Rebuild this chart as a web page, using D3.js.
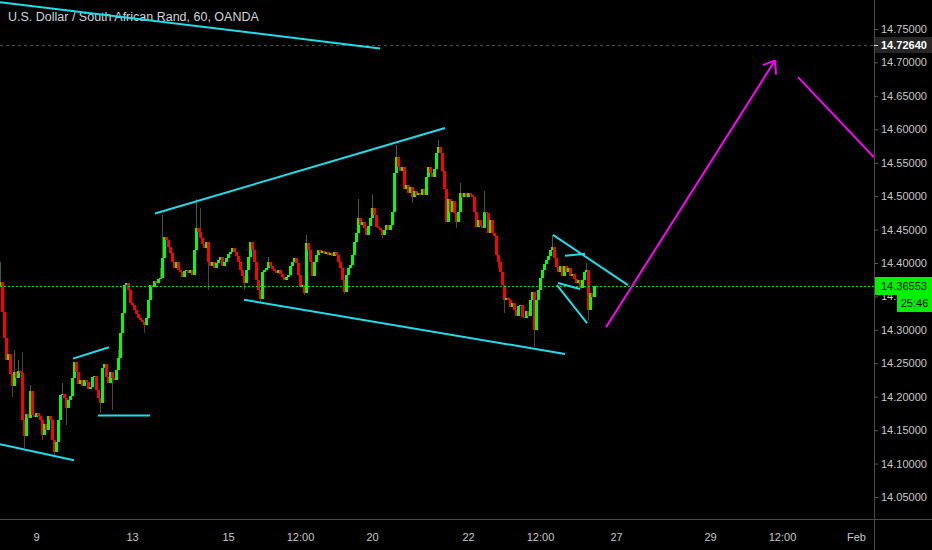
<!DOCTYPE html>
<html><head><meta charset="utf-8">
<script src="https://cdn.jsdelivr.net/npm/d3@7"></script>
<style>html,body{margin:0;padding:0;background:#000;overflow:hidden}svg{display:block}</style>
</head><body>
<svg id="chart" width="932" height="550"></svg>
<script>
// ---------- data ----------
const title = "U.S. Dollar / South African Rand, 60, OANDA";
const firstIndex = -18;          // hourly bar index of first visible candle (0 = Jan 9 00:00)
const firstOpen = 14.366;
const closes = [
  14.372,14.327,14.288,14.255,14.264,14.234,14.216,14.237,14.228,14.238,
  14.235,14.165,14.141,14.174,14.168,14.208,14.172,14.169,14.175,14.171,
  14.165,14.142,14.159,14.150,14.171,14.165,14.135,14.117,14.133,14.165,
  14.202,14.204,14.198,14.183,14.195,14.201,14.228,14.252,14.237,14.219,
  14.225,14.216,14.225,14.222,14.211,14.214,14.229,14.231,14.210,14.198,
  14.190,
  14.243,14.249,14.229,14.220,14.237,14.228,14.225,14.240,14.258,14.295,
  14.325,14.367,14.370,14.360,14.340,14.337,14.330,14.324,14.318,14.315,
  14.312,14.307,14.318,14.345,14.367,14.364,14.373,14.370,14.376,14.378,
  14.408,14.439,14.435,14.424,14.415,14.402,14.393,14.402,14.390,14.387,
  14.379,14.388,14.390,14.385,14.390,14.382,14.420,14.453,14.447,14.438,
  14.429,14.423,14.432,14.402,14.396,14.402,14.393,14.400,14.405,14.409,
  14.396,14.402,14.408,14.414,14.417,14.423,14.417,14.411,14.402,14.390,
  14.381,14.370,14.390,14.409,14.432,14.420,14.402,14.375,14.360,14.346,
  14.387,14.390,14.393,14.402,14.396,14.391,14.388,14.385,14.390,14.384,
  14.379,14.375,14.379,14.382,14.396,14.402,14.408,14.400,14.382,14.364,
  14.367,14.355,14.430,14.420,14.402,14.381,14.402,14.412,14.420,14.415,
  14.418,14.414,14.417,14.412,14.415,14.411,14.417,14.412,14.402,14.393,
  14.375,14.357,14.382,14.393,14.397,14.412,14.432,14.445,14.468,14.457,
  14.462,14.453,14.442,14.456,14.468,14.483,14.472,14.454,14.453,14.450,
  14.442,14.450,14.457,14.450,14.457,14.477,14.535,14.559,14.543,14.537,
  14.543,14.510,14.516,14.505,14.513,14.499,14.507,14.502,14.505,14.502,
  14.510,14.501,14.529,14.543,14.535,14.529,14.540,14.565,14.574,14.565,
  14.537,14.510,14.462,14.495,14.477,14.492,14.475,14.462,14.477,14.505,
  14.498,14.504,14.499,14.505,14.501,14.499,14.477,14.454,14.465,14.456,
  14.453,14.477,14.475,14.445,14.465,14.445,14.441,14.412,14.402,14.387,
  14.367,14.345,14.348,14.345,14.334,14.340,14.330,14.321,14.336,14.337,
  14.319,14.318,14.328,14.321,14.345,14.357,14.300,14.345,14.360,14.378,
  14.390,14.399,14.405,14.411,14.420,14.424,14.408,14.394,14.387,14.396,
  14.381,14.396,14.387,14.393,14.381,14.384,14.376,14.370,14.375,14.363,
  14.375,14.387,14.390,14.330,14.355,14.349,14.36553
];
// notable wick extremes: [bar index, price]
const wickHighs = [[-18,14.402],[-15,14.284],[-11,14.270],[-9,14.255],[-7,14.267],[-3,14.217],
  [13,14.220],[41,14.270],[62,14.393],[63,14.472],[80,14.495],[82,14.483],[116,14.409],
  [135,14.442],[161,14.495],[168,14.502],[180,14.577],[201,14.584],[212,14.520],
  [224,14.507],[258,14.442],[275,14.400]];
const wickLows = [[-12,14.199],[-6,14.124],[3,14.135],[9,14.111],[15,14.157],[32,14.175],
  [38,14.180],[54,14.295],[86,14.360],[104,14.360],[112,14.340],[134,14.352],[154,14.354],
  [173,14.438],[188,14.490],[210,14.453],[231,14.393],[234,14.325],[249,14.274],[276,14.314]];

const priceTicks = [14.75,14.70,14.65,14.60,14.55,14.50,14.45,14.40,14.35,14.30,14.25,14.20,14.15,14.10,14.05];
const timeTickIndex  = [0, 48, 96, 132, 168, 216, 252, 290, 337, 373, 410];
const timeTickLabels = ["9","13","15","12:00","20","22","12:00","27","29","12:00","Feb"];
const lastPrice = 14.36553;
const levelPrice = 14.72640;
const countdown = "25:46";

// drawing tools: segments as [[barIndex, price], [barIndex, price]]
const cyanLines = [
  [[-18,14.790],[172,14.721]],
  [[-18,14.129],[19,14.105]],
  [[18.5,14.257],[36.5,14.274]],
  [[31,14.172],[57,14.172]],
  [[59.5,14.474],[204.5,14.602]],
  [[104,14.345],[264.5,14.264]],
  [[258.5,14.442],[296,14.367]],
  [[260.5,14.367],[275.5,14.310]],
  [[264.5,14.411],[274.5,14.414]],
  [[261,14.370],[272,14.361]]
];
const magentaLines = [
  [[285,14.304],[369.5,14.703]],
  [[363.5,14.696],[369.5,14.703]],
  [[369.5,14.703],[370,14.682]],
  [[381,14.678],[419,14.558]]
];

// ---------- layout ----------
const W = 932, H = 550, plotR = 874, plotB = 519;
const svg = d3.select("#chart");
svg.append("rect").attr("width", W).attr("height", H).attr("fill", "#000");

const x = d3.scaleLinear().domain([-18, 419]).range([0, plotR]);
const y = d3.scaleLinear().domain([14.05, 14.75]).range([497, 29]);

svg.append("clipPath").attr("id", "plotclip").append("rect")
  .attr("x", 0).attr("y", 0).attr("width", plotR).attr("height", plotB);

// title
svg.append("text").attr("x", 8).attr("y", 21).text(title)
  .attr("fill", "#d1d4dc").attr("font-family", "Liberation Sans, Arial, sans-serif").attr("font-size", 12.5);

const plot = svg.append("g").attr("clip-path", "url(#plotclip)");

// level line
plot.append("line").attr("x1", 0).attr("x2", plotR)
  .attr("y1", Math.round(y(levelPrice)) + 0.5).attr("y2", Math.round(y(levelPrice)) + 0.5)
  .attr("stroke", "#4d4d4d").attr("stroke-dasharray", "3,3");

// candles
const hiMap = new Map(wickHighs), loMap = new Map(wickLows);
const candles = closes.map((c, k) => {
  const idx = firstIndex + k;
  const o = k === 0 ? firstOpen : closes[k - 1];
  const h = Math.max(o, c, hiMap.has(idx) ? hiMap.get(idx) : -Infinity);
  const l = Math.min(o, c, loMap.has(idx) ? loMap.get(idx) : Infinity);
  return {idx, o, h, l, c};
});
const cg = plot.append("g").attr("shape-rendering", "crispEdges");
cg.selectAll("line.wick").data(candles).join("line").attr("class", "wick")
  .attr("x1", d => Math.round(x(d.idx)) + 0.5).attr("x2", d => Math.round(x(d.idx)) + 0.5)
  .attr("y1", d => y(d.h)).attr("y2", d => y(d.l))
  .attr("stroke", d => d.c >= d.o ? "#3b5e46" : "#5e3b3b").attr("stroke-width", 1);
cg.selectAll("rect.body").data(candles).join("rect").attr("class", "body")
  .attr("x", d => Math.round(x(d.idx)) - 1).attr("width", 3)
  .attr("y", d => Math.min(y(d.o), y(d.c)))
  .attr("height", d => Math.max(1, Math.abs(y(d.o) - y(d.c))))
  .attr("fill", d => d.c >= d.o ? "#00ff00" : "#ff0000");

// last price dotted line
plot.append("line").attr("x1", 0).attr("x2", plotR)
  .attr("y1", Math.round(y(lastPrice)) + 0.5).attr("y2", Math.round(y(lastPrice)) + 0.5)
  .attr("stroke", "#00e600").attr("stroke-dasharray", "2,2");

// drawings
const seg = d3.line().x(d => x(d[0])).y(d => y(d[1]));
plot.selectAll("path.cyan").data(cyanLines).join("path").attr("class", "cyan")
  .attr("d", seg).attr("fill", "none").attr("stroke", "#22dcea").attr("stroke-width", 2);
plot.selectAll("path.mag").data(magentaLines).join("path").attr("class", "mag")
  .attr("d", seg).attr("fill", "none").attr("stroke", "#ff00ff").attr("stroke-width", 2);

// axes frame
svg.append("line").attr("x1", plotR + 0.5).attr("x2", plotR + 0.5).attr("y1", 0).attr("y2", H)
  .attr("stroke", "#4a4a4a");
svg.append("line").attr("x1", 0).attr("x2", W).attr("y1", plotB + 0.5).attr("y2", plotB + 0.5)
  .attr("stroke", "#4a4a4a");

const font = "Liberation Sans, Arial, sans-serif";
const yAxis = svg.append("g").attr("transform", `translate(${plotR},0)`)
  .call(d3.axisRight(y).tickValues(priceTicks).tickFormat(d => d.toFixed(5)).tickSize(4).tickPadding(3));
yAxis.select(".domain").remove();
yAxis.selectAll("line").attr("stroke", "#5a5a5a");
yAxis.selectAll("text").attr("fill", "#c8c8c8").attr("font-family", font).attr("font-size", 11);

const xAxis = svg.append("g").attr("transform", `translate(0,${plotB})`)
  .call(d3.axisBottom(x).tickValues(timeTickIndex).tickFormat((d, i) => timeTickLabels[i]).tickSize(0).tickPadding(14));
xAxis.select(".domain").remove();
xAxis.selectAll("text").attr("fill", "#c8c8c8").attr("font-family", font).attr("font-size", 11);

// level label
const ly = Math.round(y(levelPrice));
svg.append("rect").attr("x", plotR + 1).attr("y", ly - 8).attr("width", W - plotR - 1).attr("height", 16).attr("fill", "#262626");
svg.append("line").attr("x1", plotR).attr("x2", plotR + 4).attr("y1", ly + 0.5).attr("y2", ly + 0.5).attr("stroke", "#ddd");
svg.append("text").attr("x", plotR + 7).attr("y", ly).attr("dy", "0.32em").text(levelPrice.toFixed(5))
  .attr("fill", "#ffffff").attr("font-family", font).attr("font-size", 11).attr("font-weight", "bold");

// last price label + countdown
const py = Math.round(y(lastPrice));
svg.append("rect").attr("x", plotR + 1).attr("y", py - 9).attr("width", W - plotR - 1).attr("height", 18).attr("fill", "#00f000");
svg.append("text").attr("x", plotR + 7).attr("y", py).attr("dy", "0.35em").text(lastPrice.toFixed(5))
  .attr("fill", "#0a0a0a").attr("font-family", font).attr("font-size", 11);
svg.append("rect").attr("x", 897).attr("y", py + 9).attr("width", W - 897).attr("height", 17).attr("fill", "#00f000");
svg.append("text").attr("x", 914.5).attr("y", py + 17.5).attr("dy", "0.35em").attr("text-anchor", "middle").text(countdown)
  .attr("fill", "#0a0a0a").attr("font-family", font).attr("font-size", 11);
</script>
</body></html>
